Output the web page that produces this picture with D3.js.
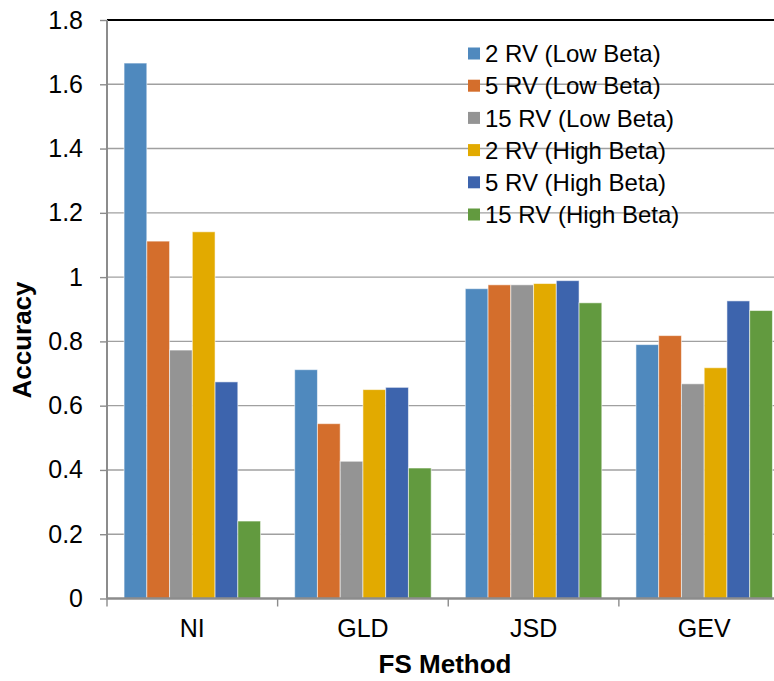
<!DOCTYPE html>
<html>
<head>
<meta charset="utf-8">
<script src="https://cdn.jsdelivr.net/npm/d3@7"></script>
<style>
  body { margin: 0; background: #fff; }
  text { font-family: "Liberation Sans", Arial, sans-serif; }
</style>
</head>
<body>
<svg id="viz" width="774" height="681"></svg>
<script>
// categories and series
var methods = ["NI", "GLD", "JSD", "GEV"];
var seriesNames = ["2 RV (Low Beta)", "5 RV (Low Beta)", "15 RV (Low Beta)",
                   "2 RV (High Beta)", "5 RV (High Beta)", "15 RV (High Beta)"];
var seriesColors = ["#4f89be", "#d46e2c", "#949494", "#e2aa00", "#3d64ad", "#629a3f"];
var rv2Low   = [1.666, 0.712, 0.964, 0.790];
var rv5Low   = [1.112, 0.544, 0.976, 0.818];
var rv15Low  = [0.773, 0.427, 0.976, 0.668];
var rv2High  = [1.141, 0.650, 0.980, 0.718];
var rv5High  = [0.674, 0.657, 0.989, 0.926];
var rv15High = [0.241, 0.406, 0.920, 0.896];
var yTicks = [0, 0.2, 0.4, 0.6, 0.8, 1, 1.2, 1.4, 1.6, 1.8];

var allSeries = [rv2Low, rv5Low, rv15Low, rv2High, rv5High, rv15High];

var svg = d3.select("#viz");
var plotLeft = 107, plotRight = 789.5, plotTop = 20, plotBottom = 598.5;

var y = d3.scaleLinear().domain([0, 1.8]).range([plotBottom, plotTop]);
var x0 = d3.scaleBand().domain(methods).range([plotLeft, plotRight])
  .paddingInner(0.2).paddingOuter(0.1);
var x1 = d3.scaleBand().domain(d3.range(seriesNames.length))
  .range([0, x0.bandwidth()]);
var color = d3.scaleOrdinal().domain(d3.range(seriesNames.length)).range(seriesColors);

// gridlines
svg.append("g")
  .selectAll("line")
  .data(yTicks.filter(function(d) { return d > 0; }))
  .enter()
  .append("line")
  .attr("x1", plotLeft)
  .attr("x2", plotRight)
  .attr("y1", function(d) { return y(d); })
  .attr("y2", function(d) { return y(d); })
  .attr("stroke", function(d) { return d === 1.8 ? "#000" : "#a0a0a0"; })
  .attr("stroke-width", function(d) { return d === 1.8 ? 2 : 1.4; });

// bars
var groups = svg.append("g")
  .selectAll("g")
  .data(methods)
  .enter()
  .append("g")
  .attr("transform", function(d) { return "translate(" + x0(d) + ",0)"; });

groups.selectAll("rect")
  .data(function(d, i) {
    return allSeries.map(function(s, k) { return { k: k, value: s[i] }; });
  })
  .enter()
  .append("rect")
  .attr("x", function(d) { return x1(d.k); })
  .attr("width", x1.bandwidth())
  .attr("y", function(d) { return y(d.value); })
  .attr("height", function(d) { return plotBottom - y(d.value); })
  .attr("fill", function(d) { return color(d.k); })
  .attr("stroke", "rgba(255,255,255,0.55)")
  .attr("stroke-width", 1);

// y axis
var yAxis = svg.append("g")
  .attr("transform", "translate(" + plotLeft + ",0)")
  .call(d3.axisLeft(y).tickValues(yTicks).tickSize(7).tickPadding(17)
    .tickFormat(function(d) { return d3.format("")(d); }));
yAxis.select(".domain").attr("stroke", "#8c8c8c").attr("stroke-width", 2)
  .attr("d", "M0," + plotTop + "V" + plotBottom);
yAxis.selectAll(".tick line").attr("stroke", "#8c8c8c").attr("stroke-width", 1.4);
yAxis.selectAll(".tick text")
  .attr("font-size", 25)
  .attr("fill", "#000")
  .style("font-family", "'Liberation Sans', Arial, sans-serif");

// x axis
var xAxis = svg.append("g")
  .attr("transform", "translate(0," + plotBottom + ")")
  .call(d3.axisBottom(x0).tickSize(0).tickPadding(21));
xAxis.select(".domain").attr("stroke", "#8c8c8c").attr("stroke-width", 2.5)
  .attr("d", "M" + plotLeft + ",0H" + plotRight);
xAxis.selectAll(".tick text")
  .attr("font-size", 25)
  .attr("fill", "#000")
  .style("font-family", "'Liberation Sans', Arial, sans-serif");

// category boundary ticks
var step = x0.step();
svg.append("g")
  .selectAll("line")
  .data(d3.range(methods.length + 1))
  .enter()
  .append("line")
  .attr("x1", function(i) { return plotLeft + i * step; })
  .attr("x2", function(i) { return plotLeft + i * step; })
  .attr("y1", plotBottom)
  .attr("y2", plotBottom + 8)
  .attr("stroke", "#8c8c8c")
  .attr("stroke-width", 1.4);

// axis titles
svg.append("text")
  .attr("x", 445)
  .attr("y", 673)
  .attr("text-anchor", "middle")
  .attr("font-size", 26)
  .attr("font-weight", "bold")
  .text("FS Method");

svg.append("text")
  .attr("transform", "translate(31,340) rotate(-90)")
  .attr("text-anchor", "middle")
  .attr("font-size", 26)
  .attr("font-weight", "bold")
  .text("Accuracy");

// legend
var legend = svg.append("g")
  .selectAll("g")
  .data(seriesNames)
  .enter()
  .append("g")
  .attr("transform", function(d, i) { return "translate(468," + (53.5 + i * 32.2) + ")"; });

legend.append("rect")
  .attr("x", 0)
  .attr("y", -6)
  .attr("width", 12)
  .attr("height", 12)
  .attr("fill", function(d, i) { return color(i); });

legend.append("text")
  .attr("x", 17)
  .attr("y", 0)
  .attr("dy", "0.36em")
  .attr("font-size", 24)
  .attr("fill", "#000")
  .text(function(d) { return d; });
</script>
</body>
</html>
